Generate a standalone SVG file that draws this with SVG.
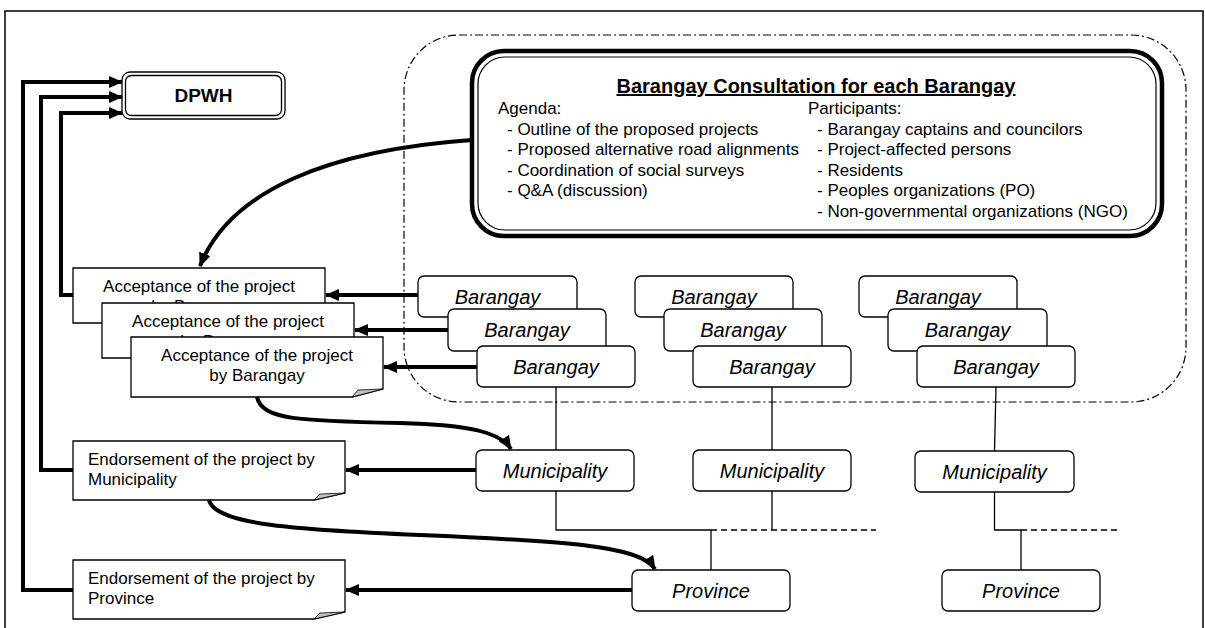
<svg xmlns="http://www.w3.org/2000/svg" width="1205" height="628" viewBox="0 0 1205 628">
<style>
text{font-family:"Liberation Sans",Arial,sans-serif;fill:#000}
.b{font-size:17px}
.it{font-size:20px;font-style:italic;text-anchor:middle}
.box{fill:#fff;stroke:#000;stroke-width:1.3}
.doc{fill:#fff;stroke:#000;stroke-width:1.3}
.fold{fill:#c0c0c0;stroke:#000;stroke-width:0.8}
.thick{fill:none;stroke:#000;stroke-width:4}
.thin{fill:none;stroke:#000;stroke-width:1.3}
.dash{fill:none;stroke:#000;stroke-width:1.3;stroke-dasharray:6,4}
.region{fill:none;stroke:#000;stroke-width:1.2;stroke-dasharray:8,3,2,3}
</style>
<defs>
<marker id="ah" markerUnits="userSpaceOnUse" markerWidth="14" markerHeight="12" refX="13" refY="6" orient="auto">
<path d="M0,0 L14,6 L0,12 Z" fill="#000"/>
</marker>
</defs>
<rect x="5" y="11" width="1198" height="640" fill="#fff" stroke="#000" stroke-width="1.5"/>

<g id="region-barangay">
<rect class="region" x="404" y="35" width="782" height="367" rx="55" ry="55"/>
</g>

<g id="consultation">
<rect x="472" y="51" width="690" height="185" rx="32" ry="32" fill="#fff" stroke="#000" stroke-width="4.5"/>
<rect x="478" y="57" width="678" height="173" rx="27" ry="27" fill="none" stroke="#000" stroke-width="1.2"/>
<text x="816" y="93" font-size="20" font-weight="bold" text-anchor="middle" text-decoration="underline">Barangay Consultation for each Barangay</text>
<text class="b" x="498" y="114">Agenda:</text>
<text class="b" x="507" y="134.5">- Outline of the proposed projects</text>
<text class="b" x="507" y="155">- Proposed alternative road alignments</text>
<text class="b" x="507" y="175.5">- Coordination of social surveys</text>
<text class="b" x="507" y="196">- Q&amp;A (discussion)</text>
<text class="b" x="808" y="114">Participants:</text>
<text class="b" x="817" y="134.5">- Barangay captains and councilors</text>
<text class="b" x="817" y="155">- Project-affected persons</text>
<text class="b" x="817" y="175.5">- Residents</text>
<text class="b" x="817" y="196">- Peoples organizations (PO)</text>
<text class="b" x="817" y="216.5">- Non-governmental organizations (NGO)</text>
</g>

<g id="dpwh">
<rect class="box" x="122" y="72" width="163" height="47" rx="8" ry="8"/>
<rect class="box" x="125.5" y="75.5" width="156" height="40" rx="6" ry="6"/>
<text x="203.5" y="102" font-size="19" font-weight="bold" text-anchor="middle">DPWH</text>
</g>

<g id="barangay-1a"><rect class="box" x="418" y="276" width="159" height="41" rx="6"/><text class="it" x="497.5" y="303.5">Barangay</text></g>
<g id="barangay-1b"><rect class="box" x="448" y="309" width="158" height="42" rx="6"/><text class="it" x="527" y="337">Barangay</text></g>
<g id="barangay-1c"><rect class="box" x="477" y="346" width="158" height="41" rx="6"/><text class="it" x="556" y="373.5">Barangay</text></g>
<g id="barangay-2a"><rect class="box" x="635" y="276" width="158" height="41" rx="6"/><text class="it" x="714" y="303.5">Barangay</text></g>
<g id="barangay-2b"><rect class="box" x="664" y="309" width="158" height="42" rx="6"/><text class="it" x="743" y="337">Barangay</text></g>
<g id="barangay-2c"><rect class="box" x="693" y="346" width="158" height="41" rx="6"/><text class="it" x="772" y="373.5">Barangay</text></g>
<g id="barangay-3a"><rect class="box" x="859" y="276" width="158" height="41" rx="6"/><text class="it" x="938" y="303.5">Barangay</text></g>
<g id="barangay-3b"><rect class="box" x="888" y="309" width="159" height="42" rx="6"/><text class="it" x="967.5" y="337">Barangay</text></g>
<g id="barangay-3c"><rect class="box" x="917" y="346" width="158" height="41" rx="6"/><text class="it" x="996" y="373.5">Barangay</text></g>

<g id="municipality-1"><rect class="box" x="476" y="450" width="158" height="41" rx="6"/><text class="it" x="555" y="477.5">Municipality</text></g>
<g id="municipality-2"><rect class="box" x="693" y="450" width="158" height="41" rx="6"/><text class="it" x="772" y="477.5">Municipality</text></g>
<g id="municipality-3"><rect class="box" x="915" y="451" width="159" height="41" rx="6"/><text class="it" x="994.5" y="478.5">Municipality</text></g>

<g id="province-1"><rect class="box" x="632" y="570" width="158" height="41" rx="6"/><text class="it" x="711" y="597.5">Province</text></g>
<g id="province-2"><rect class="box" x="942" y="570" width="158" height="41" rx="6"/><text class="it" x="1021" y="597.5">Province</text></g>

<g id="acceptance-1">
<path class="doc" d="M73,268 H325 V316 L294,323 H73 Z"/>
<path class="fold" d="M294,323 L300,317 L325,316 Z"/>
<text class="b" x="199" y="292" text-anchor="middle">Acceptance of the project</text>
<text class="b" x="199" y="312" text-anchor="middle">by Barangay</text>
</g>
<g id="acceptance-2">
<path class="doc" d="M102,303 H354 V351 L323,358 H102 Z"/>
<path class="fold" d="M323,358 L329,352 L354,351 Z"/>
<text class="b" x="228" y="327" text-anchor="middle">Acceptance of the project</text>
<text class="b" x="228" y="347" text-anchor="middle">by Barangay</text>
</g>
<g id="acceptance-3">
<path class="doc" d="M131,337 H383 V389 L352,397 H131 Z"/>
<path class="fold" d="M352,397 L358,390 L383,389 Z"/>
<text class="b" x="257" y="361" text-anchor="middle">Acceptance of the project</text>
<text class="b" x="257" y="381" text-anchor="middle">by Barangay</text>
</g>

<g id="endorsement-municipality">
<path class="doc" d="M73,441 H345 V493 L314,500 H73 Z"/>
<path class="fold" d="M314,500 L320,494 L345,493 Z"/>
<text class="b" x="88" y="465">Endorsement of the project by</text>
<text class="b" x="88" y="485">Municipality</text>
</g>
<g id="endorsement-province">
<path class="doc" d="M73,560 H345 V612 L314,619 H73 Z"/>
<path class="fold" d="M314,619 L320,613 L345,612 Z"/>
<text class="b" x="88" y="584">Endorsement of the project by</text>
<text class="b" x="88" y="604">Province</text>
</g>

<g id="connectors">
<path class="thick" d="M73,590 H23 V82 H122" marker-end="url(#ah)"/>
<path class="thick" d="M73,470 H41 V97 H122" marker-end="url(#ah)"/>
<path class="thick" d="M73,295 H61 V113 H122" marker-end="url(#ah)"/>
<path class="thick" d="M472,140 C330,150 230,190 200,266" marker-end="url(#ah)"/>
<path class="thick" d="M418,295 H326" marker-end="url(#ah)"/>
<path class="thick" d="M448,330 H355" marker-end="url(#ah)"/>
<path class="thick" d="M477,367 H384" marker-end="url(#ah)"/>
<path class="thick" d="M476,470 H346" marker-end="url(#ah)"/>
<path class="thick" d="M632,590 H346" marker-end="url(#ah)"/>
<path class="thick" d="M257,397 C262,420 300,421 400,423 C470,425 500,432 511,449" marker-end="url(#ah)"/>
<path class="thick" d="M209,500 C215,525 300,530 420,535 C560,541 640,545 655,569" marker-end="url(#ah)"/>
<path class="thin" d="M556,387 V450"/>
<path class="thin" d="M772,387 V450"/>
<path class="thin" d="M996,387 L994.5,451"/>
<path class="thin" d="M556,491 V530 H711"/>
<path class="thin" d="M772,491 V530"/>
<path class="thin" d="M711,530 V570"/>
<path class="dash" d="M711,530 H876"/>
<path class="thin" d="M994.5,492 V530 H1021 V570"/>
<path class="dash" d="M1021,530 H1120"/>
</g>
</svg>
